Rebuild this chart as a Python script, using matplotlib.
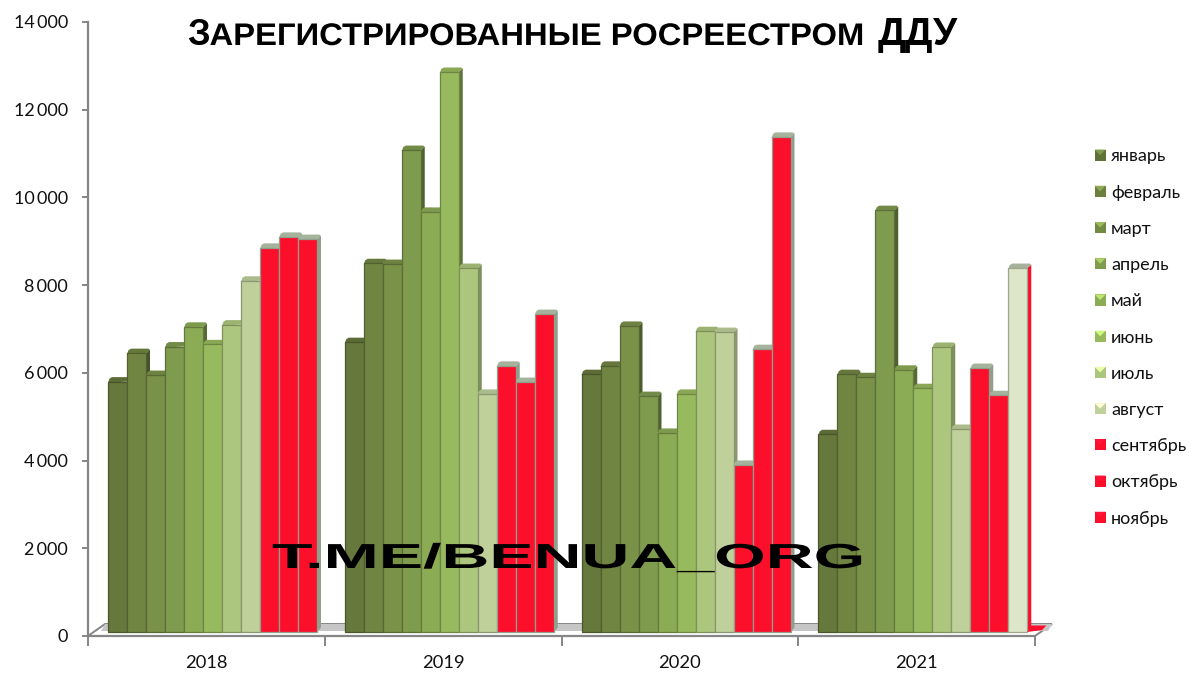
import matplotlib
matplotlib.use("Agg")
import matplotlib.pyplot as plt
from matplotlib.patches import Polygon, Rectangle, Patch
from matplotlib.legend_handler import HandlerBase
from matplotlib.patheffects import AbstractPathEffect
from matplotlib.transforms import Affine2D
from matplotlib.ticker import FuncFormatter

years = ["2018", "2019", "2020", "2021"]
months = ["январь", "февраль", "март", "апрель", "май", "июнь", "июль", "август",
          "сентябрь", "октябрь", "ноябрь"]
v2018 = [5800, 6450, 5950, 6600, 7050, 6650, 7100, 8100, 8850, 9100, 9050]
v2019 = [6700, 8500, 8480, 11080, 9670, 12860, 8390, 5520, 6160, 5790, 7340]
v2020 = [5970, 6160, 7070, 5470, 4630, 5520, 6950, 6930, 3900, 6540, 11380]
v2021 = [4600, 5970, 5900, 9710, 6070, 5650, 6590, 4720, 6110, 5490, 8390]
series = [v2018, v2019, v2020, v2021]
yticks = [0, 2000, 4000, 6000, 8000, 10000, 12000, 14000]

greens = ["#66783c", "#718543", "#7a9148", "#7f9b4e", "#8cab55", "#98ba5e", "#adc67e", "#bfd09a"]
RED = "#fb0f2b"
PALE = "#dde6c8"
colors = greens + [RED] * 3
colors_2021 = greens + [RED, RED, PALE]

W, H = 1200, 679
X0, X1, Y0, Y1 = 88, 1035, 636, 22
fig = plt.figure(figsize=(12, 6.79), dpi=100, facecolor="white")
ax = fig.add_axes([X0 / W, 1 - Y0 / H, (X1 - X0) / W, (Y0 - Y1) / H])
ax.set_xlim(0, 4)
ax.set_ylim(0, 14000)
ax.patch.set_alpha(0)
FONT = ["Lato", "Open Sans", "DejaVu Sans"]
GREY = "#868686"
TXT = "#111111"

pxx = 4 / (X1 - X0)          # one pixel in x data
pxy = 14000 / (Y0 - Y1)      # one pixel in y data

for s in ("top", "right"):
    ax.spines[s].set_visible(False)
for s in ("left", "bottom"):
    ax.spines[s].set_color(GREY)
    ax.spines[s].set_linewidth(1.6)
ax.set_yticks(yticks)
ax.yaxis.set_major_formatter(FuncFormatter(lambda v, p: f"{int(v):,}".replace(",", "\u2009")))
ax.set_xticks(range(5))
ax.set_xticklabels([])
ax.set_xticks([0.5, 1.5, 2.5, 3.5], years, minor=True)
ax.tick_params(axis="x", which="minor", length=0, labelsize=13.2, pad=14, labelcolor=TXT)
ax.tick_params(axis="x", which="major", length=7, width=1.4, color=GREY)
ax.tick_params(axis="y", length=4.5, width=1.4, color=GREY, labelsize=13, pad=10, labelcolor=TXT)
for t in ax.get_xticklabels(minor=True) + ax.get_yticklabels():
    t.set_fontfamily(FONT)

# floor
fdx, fdy = 17 * pxx, 12 * pxy
ax.add_patch(Polygon([(0, 0), (fdx, fdy), (4 + fdx, fdy), (4, 0)], closed=True, fc="white",
                     ec=GREY, lw=1.4, zorder=1, clip_on=False))
ax.add_patch(Polygon([(fdx, fdy), (4 + fdx, fdy), (4 + fdx - 4 * pxx, 5 * pxy), (fdx - 4 * pxx, 5 * pxy)],
                     closed=True, fc="#c6c6c6", ec="none", zorder=1.5, clip_on=False))

# bars
bw = 19 * pxx
first = 20 * pxx
base = 4 * pxy
dx, dy = 4 * pxx, 4.5 * pxy
z = 3


def shade(c, f):
    r, g, b = matplotlib.colors.to_rgb(c)
    return (min(r * f, 1), min(g * f, 1), min(b * f, 1))


for g, vals in enumerate(series):
    cols = colors_2021 if g == 3 else colors
    for i, (v, c) in enumerate(zip(vals, cols)):
        x = g + first + i * bw
        red = c == RED
        pale = c == PALE
        side = "#8f9f8c" if red else (RED if pale else shade(c, 0.62 if i < 6 else 0.72))
        cap = "#a5b29c" if red or pale else shade(c, 0.9)
        edge = "#8f9f8c" if red else shade(c, 0.72)
        ax.add_patch(Polygon([(x + bw, base), (x + bw + dx, base + dy), (x + bw + dx, v + dy - pxy), (x + bw, v)],
                             closed=True, fc=side, ec="none", zorder=z, clip_on=False))
        ax.add_patch(Polygon([(x, v - pxy), (x + 1.5 * pxx, v + dy - 1.5 * pxy), (x + dx, v + dy),
                              (x + bw + dx - 1.5 * pxx, v + dy), (x + bw + dx, v + dy - 1.5 * pxy), (x + bw, v)],
                             closed=True, fc=cap, ec="none", zorder=z, clip_on=False))
        ax.bar(x, v - base, bw, bottom=base, align="edge", color=c, ec=edge, lw=0.9, zorder=z + 0.5)
        z += 1

# the flat red twelfth bar of 2021
xr = 3 + first + 11 * bw
ax.add_patch(Polygon([(xr, base), (xr + dx, base + dy + 2 * pxy), (xr + bw, base + dy + 2 * pxy), (xr + bw - dx, base + 2 * pxy)],
                     closed=True, fc=RED, ec="none", zorder=z, clip_on=False))


# legend
class Env(HandlerBase):
    def create_artists(self, legend, orig, xd, yd, w, h, fs, trans):
        c = orig.get_facecolor()
        size = 8
        x0, y0 = w - size, (h - size) / 2
        r = Rectangle((x0, y0), size, size, fc=c, ec="none", transform=trans)
        tri = Polygon([(x0, y0 + size), (x0 + size, y0 + size), (x0 + size / 2, y0 + size / 2)],
                      closed=True, fc=[min(1, k * 1.35) for k in c[:3]], ec="none", transform=trans)
        return [r, tri]


legend_cols = ["#5f7339", "#6b7f3f", "#738a44", "#7f9b4e", "#8cab55", "#98ba5e", "#adc67e", "#bfd09a", RED, RED, RED]
handles = [Patch(fc=c, label=m) for c, m in zip(legend_cols, months)]
leg = fig.legend(handles=handles, loc="upper left", bbox_to_anchor=(1084 / W, 1 - 143 / H),
                 frameon=False, labelspacing=1.12, handlelength=0.9,
                 handletextpad=0.3, handler_map={Patch: Env()}, borderaxespad=0, borderpad=0.3,
                 prop={"family": FONT, "size": 13})
for t in leg.get_texts():
    t.set_color(TXT)


# horizontal stretch for real text
class Stretch(AbstractPathEffect):
    def __init__(self, x0, sx):
        self.x0, self.sx = x0, sx

    def draw_path(self, renderer, gc, tpath, affine, rgbFace=None):
        a = affine + Affine2D().translate(-self.x0, 0).scale(self.sx, 1).translate(self.x0, 0)
        renderer.draw_path(gc, tpath, a, rgbFace)


# title (small caps made of real text pieces)
TF = "Liberation Sans"
fig.text(187 / W, 1 - 45 / H, "З", family=TF, weight="bold", fontsize=26, color="black", zorder=50)
fig.text(209.5 / W, 1 - 45 / H, "АРЕГИСТРИРОВАННЫЕ РОСРЕЕСТРОМ", family=TF, weight="bold", fontsize=22.5,
         color="black", zorder=50, path_effects=[Stretch(209.5, 1.05)])
fig.text(878 / W, 1 - 45 / H, "ДДУ", family=TF, weight="bold", fontsize=28, color="black", zorder=50)

# watermark
fig.text(272 / W, 1 - 568 / H, "T.ME/BENUA_ORG", family=TF, weight="bold", fontsize=25, color="black",
         zorder=60, path_effects=[Stretch(272, 1.91)])

fig.savefig("out.png", dpi=100)
